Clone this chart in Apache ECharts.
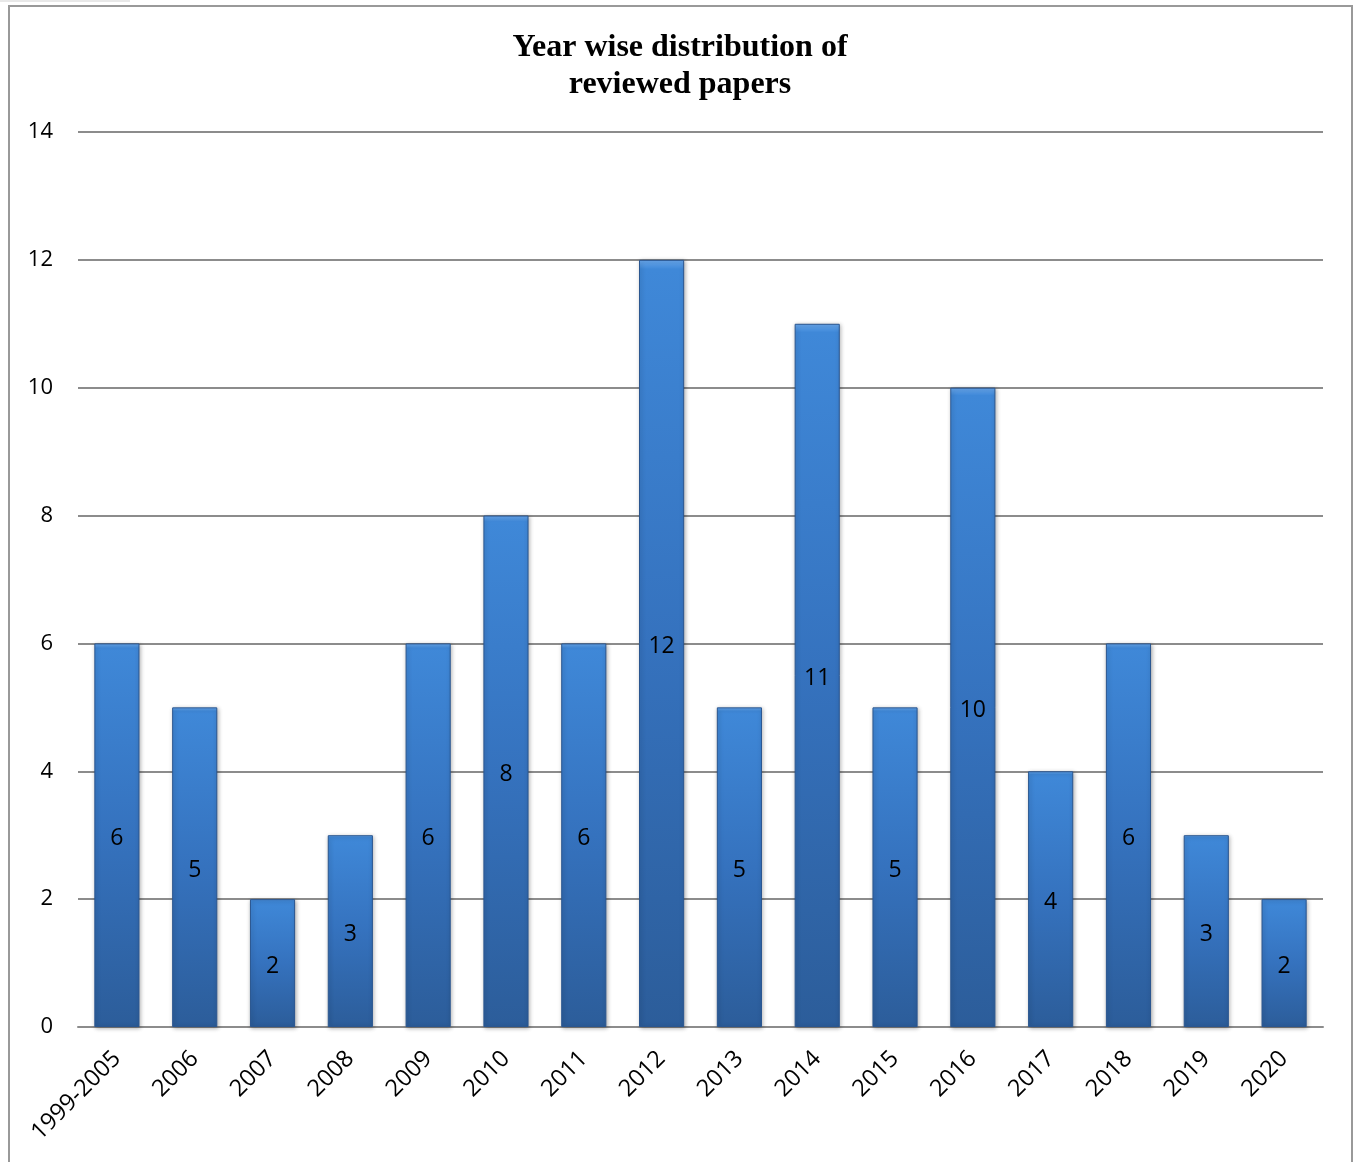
<!DOCTYPE html>
<html>
<head>
<meta charset="utf-8">
<script src="https://cdn.jsdelivr.net/npm/echarts@6/dist/echarts.min.js"></script>
<style>
html,body{margin:0;padding:0;background:#fff;}
#c{width:1353px;height:1162px;}
</style>
</head>
<body>
<div id="c"></div>
<script>
const categories = ['1999-2005','2006','2007','2008','2009','2010','2011','2012','2013','2014','2015','2016','2017','2018','2019','2020'];
const papers = [6,5,2,3,6,8,6,12,5,11,5,10,4,6,3,2];
const yTicks = [0,2,4,6,8,10,12,14];

const chart = echarts.init(document.getElementById('c'));
chart.setOption({
  backgroundColor: '#fff',
  animation: false,
  title: {
    text: 'Year wise distribution of\nreviewed papers',
    left: 675, top: 24, textAlign: 'center',
    textStyle: {fontFamily: 'Liberation Serif', fontWeight: 'bold', fontSize: 32, lineHeight: 37, color: '#000'}
  },
  graphic: [
    {type: 'rect', shape: {x: 9, y: 6, width: 1343, height: 1170}, style: {fill: 'none', stroke: '#999', lineWidth: 2}, silent: true},
    {type: 'rect', shape: {x: 0, y: 0, width: 130, height: 2}, style: {fill: '#e8e8e8'}, silent: true}
  ],
  grid: {left: 78, right: 30, top: 132, bottom: 135, containLabel: false},
  xAxis: {
    type: 'category',
    data: categories,
    axisLine: {show: true, lineStyle: {color: '#8c8c8c', width: 2}},
    axisTick: {show: false},
    axisLabel: {rotate: 45, fontFamily: 'Open Sans', fontSize: 23.5, color: '#000', margin: 28, interval: 0}
  },
  yAxis: {
    type: 'value', min: 0, max: 14, interval: 2,
    axisLine: {show: false}, axisTick: {show: false},
    axisLabel: {fontFamily: 'Open Sans', fontSize: 22, color: '#000', margin: 25,
      formatter: v => yTicks.includes(v) ? String(v) : ''},
    splitLine: {lineStyle: {color: '#8c8c8c', width: 2}}
  },
  series: [{
    type: 'bar',
    data: papers,
    barCategoryGap: '42%',
    itemStyle: {
      color: {type: 'linear', x: 0, y: 0, x2: 0, y2: 1, colorStops: [
        {offset: 0, color: '#6aaaf0'},
        {offset: 0.012, color: '#3f88d8'},
        {offset: 0.5, color: '#3572be'},
        {offset: 1, color: '#2c5d9a'}
      ]},
      borderColor: '#2a5690', borderWidth: 1,
      shadowColor: 'rgba(0,0,0,0.3)', shadowBlur: 4, shadowOffsetX: 1, shadowOffsetY: 1
    },
    label: {show: true, position: 'inside', offset: [0, 3], fontFamily: 'Open Sans', fontSize: 23, color: '#000'}
  }]
});
</script>
</body>
</html>
